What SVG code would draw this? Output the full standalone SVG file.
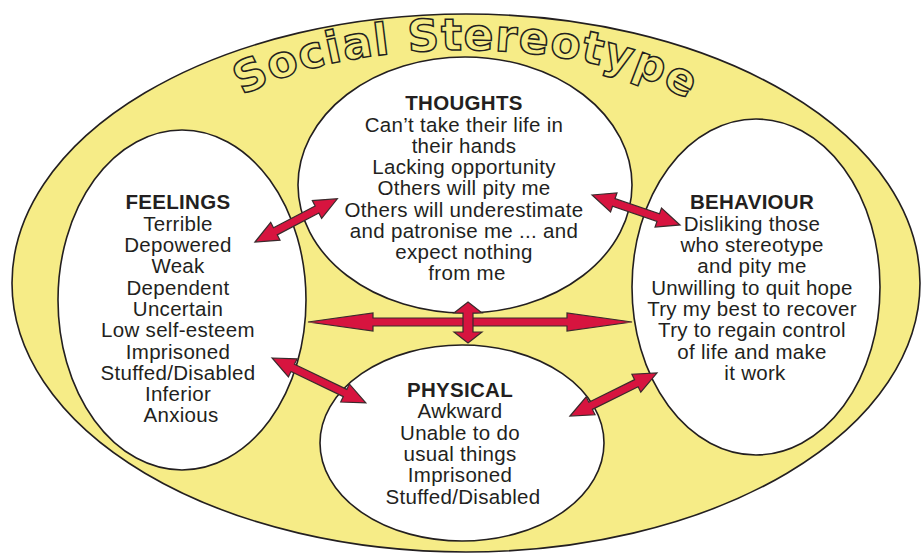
<svg xmlns="http://www.w3.org/2000/svg" width="923" height="553" viewBox="0 0 923 553">
  <style>
    .ring { fill: #f6ec87; stroke: #231f20; stroke-width: 1.6; }
    .bubble { fill: #ffffff; stroke: #231f20; stroke-width: 1.6; }
    .arrow { fill: #d7143f; stroke: #3a2a2c; stroke-width: 1.2; stroke-linejoin: miter; }
    .label { font-family: "Liberation Sans", Arial, sans-serif; font-size: 20.5px; letter-spacing: 0.3px; fill: #231f20; text-anchor: middle; }
    .head { font-weight: bold; }
    .title text { font-family: "DejaVu Sans", "Liberation Sans", sans-serif; font-weight: bold; font-size: 44px; letter-spacing: 1.3px; fill: #f6ec87; stroke: #231f20; stroke-width: 1.5; }
  </style>
  <defs>
    <!-- baseline of the title: elliptical arc, centre (462,150), radii 260 x 100 -->
    <path id="titleArc" d="M222,111.5 A260,100 0 0 1 707,116.5"/>
  </defs>

  <!-- outer band -->
  <g id="social-stereotype">
    <ellipse class="ring" cx="466" cy="283" rx="454" ry="269"/>
    <!-- title set on the arc in three runs -->
    <g class="title">
      <text><textPath href="#titleArc" startOffset="26">Social</textPath></text>
      <text><textPath href="#titleArc" startOffset="198.3">Stere</textPath></text>
      <text><textPath href="#titleArc" startOffset="338.9">otype</textPath></text>
    </g>
  </g>

  <g id="thoughts">
    <ellipse class="bubble" cx="465" cy="185" rx="167" ry="128"/>
    <text class="label" x="467">
      <tspan class="head" x="467" y="110">THOUGHTS</tspan>
      <tspan x="467" y="132">Can’t take their life in</tspan>
      <tspan x="467" y="153">their hands</tspan>
      <tspan x="467" y="174">Lacking opportunity</tspan>
      <tspan x="467" y="195">Others will pity me</tspan>
      <tspan x="467" y="217">Others will underestimate</tspan>
      <tspan x="467" y="238">and patronise me ... and</tspan>
      <tspan x="467" y="259">expect nothing</tspan>
      <tspan x="467" y="280">from me</tspan>
    </text>
  </g>

  <g id="feelings">
    <ellipse class="bubble" cx="182" cy="300" rx="124" ry="170"/>
    <text class="label" x="181">
      <tspan class="head" x="181" y="209">FEELINGS</tspan>
      <tspan x="181" y="231">Terrible</tspan>
      <tspan x="181" y="252">Depowered</tspan>
      <tspan x="181" y="273">Weak</tspan>
      <tspan x="181" y="295">Dependent</tspan>
      <tspan x="181" y="316">Uncertain</tspan>
      <tspan x="181" y="337">Low self-esteem</tspan>
      <tspan x="181" y="359">Imprisoned</tspan>
      <tspan x="181" y="380">Stuffed/Disabled</tspan>
      <tspan x="181" y="401">Inferior</tspan>
      <tspan x="181" y="422">Anxious</tspan>
    </text>
  </g>

  <g id="behaviour">
    <ellipse class="bubble" cx="756" cy="287" rx="124" ry="168"/>
    <text class="label" x="755">
      <tspan class="head" x="755" y="209">BEHAVIOUR</tspan>
      <tspan x="755" y="231">Disliking those</tspan>
      <tspan x="755" y="252">who stereotype</tspan>
      <tspan x="755" y="273">and pity me</tspan>
      <tspan x="755" y="295">Unwilling to quit hope</tspan>
      <tspan x="755" y="316">Try my best to recover</tspan>
      <tspan x="755" y="337">Try to regain control</tspan>
      <tspan x="755" y="359">of life and make</tspan>
      <tspan x="755" y="380">it work</tspan>
    </text>
  </g>

  <g id="physical">
    <ellipse class="bubble" cx="462" cy="443" rx="142" ry="98"/>
    <text class="label" x="463">
      <tspan class="head" x="463" y="397">PHYSICAL</tspan>
      <tspan x="463" y="418">Awkward</tspan>
      <tspan x="463" y="440">Unable to do</tspan>
      <tspan x="463" y="461">usual things</tspan>
      <tspan x="463" y="482">Imprisoned</tspan>
      <tspan x="463" y="504">Stuffed/Disabled</tspan>
    </text>
  </g>

  <!-- double-headed connectors, each drawn along +x then placed -->
  <g id="connectors">
    <!-- feelings <-> thoughts -->
    <polygon class="arrow" transform="translate(255,242) rotate(-27.7)"
      points="0,0 23,-10 23,-4 70,-4 70,-10 93,0 70,10 70,4 23,4 23,10"/>
    <!-- thoughts <-> behaviour -->
    <polygon class="arrow" transform="translate(592,195) rotate(18.8)"
      points="0,0 23,-10 23,-4 70,-4 70,-10 93,0 70,10 70,4 23,4 23,10"/>
    <!-- feelings <-> physical -->
    <polygon class="arrow" transform="translate(272,358) rotate(25.6)"
      points="0,0 23,-10 23,-4 81,-4 81,-10 104,0 81,10 81,4 23,4 23,10"/>
    <!-- physical <-> behaviour -->
    <polygon class="arrow" transform="translate(570,416) rotate(-26.3)"
      points="0,0 23,-10 23,-4 74,-4 74,-10 97,0 74,10 74,4 23,4 23,10"/>
    <!-- feelings <-> behaviour -->
    <polygon class="arrow" points="308,322 373,313 373,318 567,318 567,313 632,322 567,331 567,326 373,326 373,331"/>
    <!-- thoughts <-> physical -->
    <polygon class="arrow" points="468,302 482,313 473,313 473,332 482,332 468,343 454,332 463,332 463,313 454,313"/>
  </g>
</svg>
